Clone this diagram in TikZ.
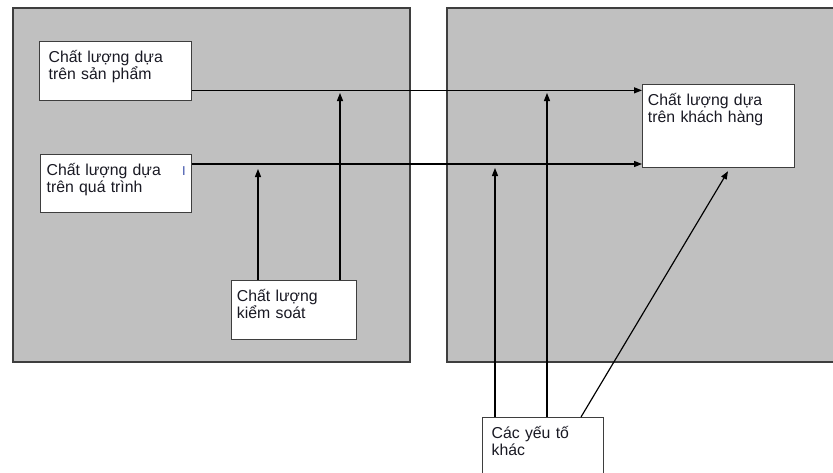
\documentclass[tikz,border=0pt]{standalone}
\usepackage{fontspec}
\setmainfont{Liberation Sans}
\usepackage{xcolor}
\usepackage{tikz}
\usetikzlibrary{arrows.meta, positioning, calc}
\definecolor{panelgray}{RGB}{192,192,192}
\definecolor{edgegray}{RGB}{62,62,62}
\definecolor{textdark}{RGB}{25,25,35}
\definecolor{cursorblue}{RGB}{60,80,170}
\tikzset{
  panel/.style={fill=panelgray, draw=edgegray, line width=1.2pt},
  qbox/.style={rectangle, draw=edgegray, fill=white, anchor=north west,
    align=left, inner ysep=0pt, text height=18pt, text=textdark,
    font=\fontsize{13.5}{14.5}\selectfont, line width=1.1pt},
  arrow/.style={-{Triangle[length=2.4mm, width=1.8mm]}, line width=1pt, color=black}
}
\begin{document}
\begin{tikzpicture}[x=0.03cm, y=-0.03cm]
  \useasboundingbox (0,0) rectangle (833,473);

  % Panels
  \draw[panel] (13,8) rectangle (410,362);
  \draw[panel] (447,8) rectangle (840,362);

  % Boxes in the left panel
  \node[qbox, inner xsep=0.27cm, text width=4.02cm, text depth=32.4pt] (prod) at (39,41)
    {Chất lượng dựa\\trên sản phẩm};
  \node[qbox, inner xsep=0.18cm, text width=4.17cm, text depth=31.5pt] (proc) at (40,154)
    {Chất lượng dựa\\trên quá trình};
  \node[qbox, inner xsep=0.16cm, text width=3.43cm, text depth=32.4pt] (ctrl) at (231,280)
    {Chất lượng\\kiểm soát};
  \node[text=cursorblue, font=\fontsize{11}{11}\selectfont, inner sep=0pt] (cursor) at (184,171) {I};

  % Boxes on the right
  \node[qbox, inner xsep=0.16cm, text width=4.24cm, text depth=52.8pt] (cust) at (642,84)
    {Chất lượng dựa\\trên khách hàng};
  \node[qbox, inner xsep=0.27cm, text width=3.09cm, text depth=34.9pt] (other) at (482,417)
    {Các yếu tố\\khác};

  % Flows to customer based quality
  \draw[arrow] (prod.south east) ++(0,-11) coordinate (pa) -- (pa -| cust.west);
  \draw[arrow] (proc.north east) ++(0,10) coordinate (pb) -- (pb -| cust.west);

  % Control
  \draw[arrow] (ctrl.north west) ++(27,0) -- +(0,-111);
  \draw[arrow] (ctrl.north west) ++(109,0) -- +(0,-187);

  % Other factors
  \draw[arrow] (other.north west) ++(13,0) -- +(0,-249);
  \draw[arrow] (other.north west) ++(65,0) -- +(0,-324);
  \draw[arrow] (other.north west) ++(99,0) -- ([shift={(86,3)}]cust.south west);
\end{tikzpicture}
\end{document}
